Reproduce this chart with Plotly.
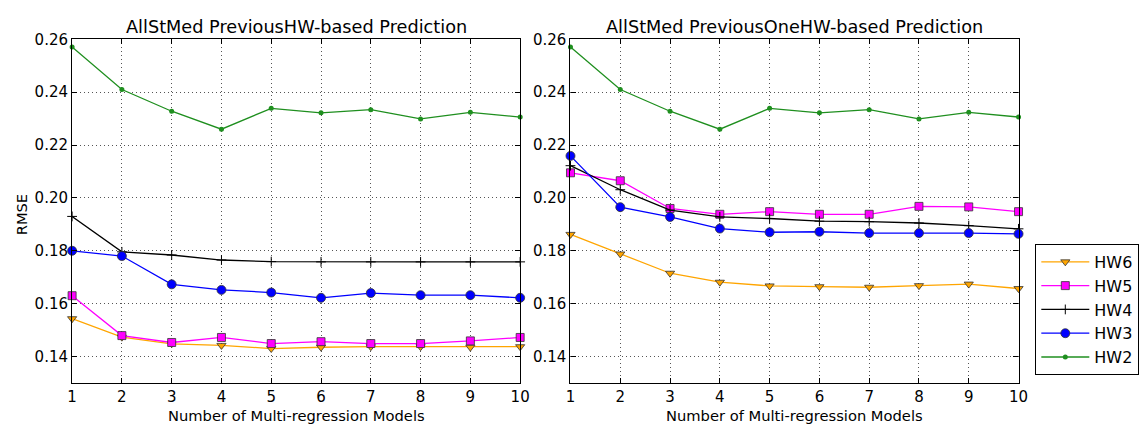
import plotly.graph_objects as go

W, H = 1144, 425
x_vals = [1, 2, 3, 4, 5, 6, 7, 8, 9, 10]
y_ticks = [0.14, 0.16, 0.18, 0.20, 0.22, 0.24, 0.26]

# Left panel: PreviousHW-based
left_hw6 = [0.1543, 0.1473, 0.1448, 0.1442, 0.1430, 0.1435, 0.1437, 0.1437, 0.1435, 0.1437]
left_hw5 = [0.1630, 0.1479, 0.1453, 0.1472, 0.1449, 0.1456, 0.1449, 0.1449, 0.1459, 0.1472]
left_hw4 = [0.1930, 0.1796, 0.1784, 0.1765, 0.1759, 0.1758, 0.1758, 0.1758, 0.1758, 0.1758]
left_hw3 = [0.1800, 0.1780, 0.1673, 0.1652, 0.1642, 0.1622, 0.1640, 0.1632, 0.1632, 0.1622]
left_hw2 = [0.2571, 0.2410, 0.2328, 0.2260, 0.2339, 0.2322, 0.2334, 0.2299, 0.2324, 0.2306]

# Right panel: PreviousOneHW-based
right_hw6 = [0.1862, 0.1788, 0.1715, 0.1681, 0.1667, 0.1664, 0.1662, 0.1668, 0.1674, 0.1657]
right_hw5 = [0.2095, 0.2065, 0.1960, 0.1938, 0.1948, 0.1938, 0.1938, 0.1968, 0.1966, 0.1948]
right_hw4 = [0.2122, 0.2031, 0.1954, 0.1928, 0.1922, 0.1912, 0.1910, 0.1905, 0.1895, 0.1883]
right_hw3 = [0.2159, 0.1965, 0.1928, 0.1884, 0.1870, 0.1872, 0.1867, 0.1867, 0.1867, 0.1864]
right_hw2 = left_hw2

series_names = ["HW6", "HW5", "HW4", "HW3", "HW2"]
line_colors = ["#FFA500", "#FF00FF", "#000000", "#0000FF", "#1f8f1f"]
marker_symbols = ["triangle-down", "square", "cross-thin", "circle", "circle"]
marker_sizes = [8, 8, 7, 9, 5]

fig = go.Figure()

panels = [
    ([left_hw6, left_hw5, left_hw4, left_hw3, left_hw2], "x", "y"),
    ([right_hw6, right_hw5, right_hw4, right_hw3, right_hw2], "x2", "y2"),
]
for pi, (data, xa, ya) in enumerate(panels):
    for name, vals, col, sym, sz in zip(series_names, data, line_colors, marker_symbols, marker_sizes):
        if sym == "cross-thin":
            marker = dict(symbol=sym, size=sz, color=col, line=dict(color=col, width=1))
        elif name == "HW2":
            marker = dict(symbol=sym, size=sz, color=col, line=dict(color=col, width=0))
        else:
            marker = dict(symbol=sym, size=sz, color=col, line=dict(color="#333333", width=0.8))
        fig.add_trace(go.Scatter(
            x=x_vals, y=vals, mode="lines+markers", name=name,
            line=dict(color=col, width=1.3), marker=marker,
            xaxis=xa, yaxis=ya, showlegend=(pi == 0), cliponaxis=False,
        ))

ytop, ybot = 31, 382
ydom = [1 - ybot / H, 1 - ytop / H]
common_ax = dict(
    showline=True, linecolor="black", linewidth=1.2, mirror="allticks",
    ticks="inside", ticklen=5, tickcolor="black",
    showgrid=True, gridcolor="#555555", griddash="1px,3px", gridwidth=1,
    zeroline=False, tickfont=dict(family="DejaVu Sans", size=15, color="black"),
)
fig.update_layout(
    width=W, height=H, margin=dict(l=0, r=0, t=0, b=0),
    paper_bgcolor="white", plot_bgcolor="white",
    font=dict(family="DejaVu Sans", color="black"),
    xaxis=dict(domain=[68 / W, 522 / W], range=[1, 10], tickvals=x_vals, anchor="y", **common_ax),
    yaxis=dict(domain=ydom, range=[0.13, 0.26], tickvals=y_ticks, tickformat=".2f", anchor="x", **common_ax),
    xaxis2=dict(domain=[573 / W, 1027 / W], range=[1, 10], tickvals=x_vals, anchor="y2", **common_ax),
    yaxis2=dict(domain=ydom, range=[0.13, 0.26], tickvals=y_ticks, tickformat=".2f", anchor="x2", **common_ax),
    legend=dict(
        x=1044 / W, y=1 - 240 / H, xanchor="left", yanchor="top",
        bordercolor="black", borderwidth=1, bgcolor="white",
        font=dict(family="DejaVu Sans", size=16, color="black"),
        tracegroupgap=2, itemwidth=48,
    ),
    annotations=[
        dict(text="AllStMed PreviousHW-based Prediction", x=(68 + 522) / 2 / W, y=1 - 18 / H,
             xref="paper", yref="paper", showarrow=False, font=dict(size=17.7), xanchor="center", yanchor="middle"),
        dict(text="AllStMed PreviousOneHW-based Prediction", x=(573 + 1027) / 2 / W, y=1 - 18 / H,
             xref="paper", yref="paper", showarrow=False, font=dict(size=17.7), xanchor="center", yanchor="middle"),
        dict(text="Number of Multi-regression Models", x=(68 + 522) / 2 / W, y=1 - 415 / H,
             xref="paper", yref="paper", showarrow=False, font=dict(size=14.7), xanchor="center", yanchor="middle"),
        dict(text="Number of Multi-regression Models", x=(573 + 1027) / 2 / W, y=1 - 415 / H,
             xref="paper", yref="paper", showarrow=False, font=dict(size=14.7), xanchor="center", yanchor="middle"),
        dict(text="RMSE", x=17 / W, y=1 - 210 / H, textangle=-90,
             xref="paper", yref="paper", showarrow=False, font=dict(size=14.7), xanchor="center", yanchor="middle"),
    ],
)

fig.write_html("out.html")
